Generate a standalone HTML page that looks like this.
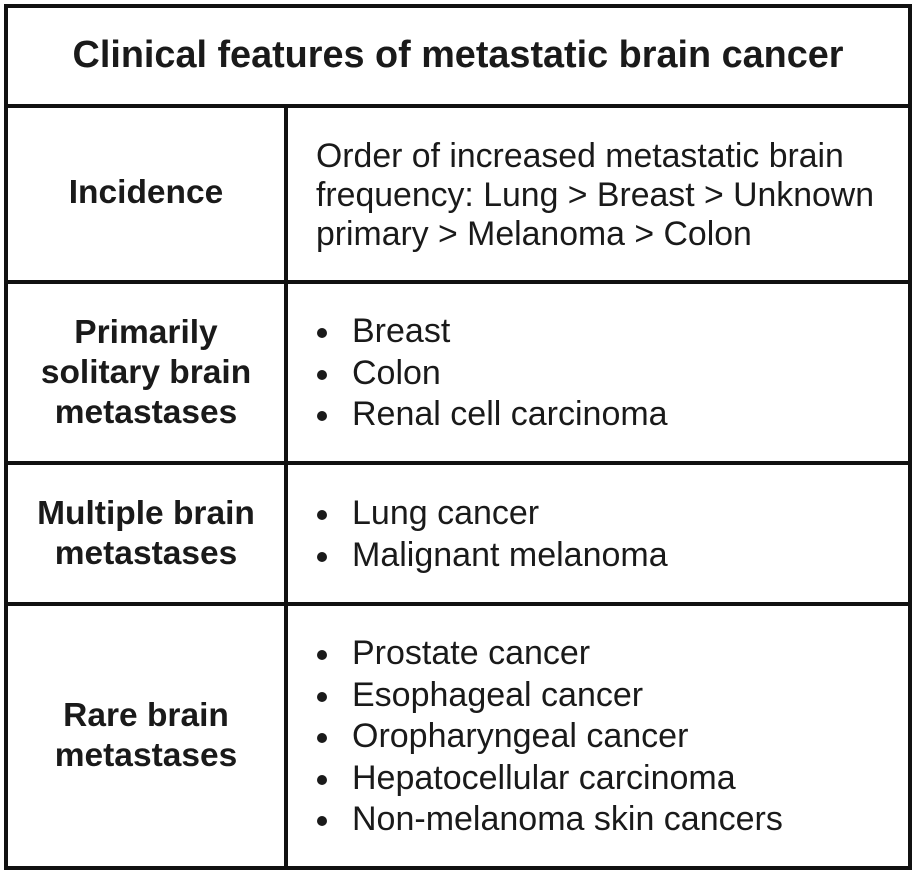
<!DOCTYPE html>
<html><head><meta charset="utf-8"><style>
body{margin:0;background:#fff;width:916px;height:876px;overflow:hidden;position:relative;font-family:"Liberation Sans",Arial,sans-serif;color:#1a1a1a}
.l{position:absolute;background:#111}
.t{position:absolute;white-space:nowrap}
.lab{position:absolute;left:8px;width:276px;text-align:center;font-weight:bold;font-size:33.5px;line-height:40px}
.b{position:absolute;left:352px;font-size:34px;line-height:41.5px;white-space:nowrap}
.b div{position:relative}
.b div::before{content:"";position:absolute;left:-35px;top:17px;width:10px;height:10px;border-radius:50%;background:#1a1a1a}
</style></head><body>
<div class="l" style="left:4px;top:4px;width:908px;height:4px"></div>
<div class="l" style="left:4px;top:866px;width:908px;height:4px"></div>
<div class="l" style="left:4px;top:4px;width:4px;height:866px"></div>
<div class="l" style="left:908px;top:4px;width:4px;height:866px"></div>
<div class="l" style="left:4px;top:104px;width:908px;height:4px"></div>
<div class="l" style="left:284px;top:104px;width:4px;height:766px"></div>
<div class="l" style="left:4px;top:280px;width:908px;height:4px"></div>
<div class="l" style="left:4px;top:461px;width:908px;height:4px"></div>
<div class="l" style="left:4px;top:602px;width:908px;height:4px"></div>

<div class="t" style="left:8px;width:900px;top:35px;text-align:center;font-weight:bold;font-size:37.8px;line-height:40px">Clinical features of metastatic brain cancer</div>

<div class="lab" style="top:173px">Incidence</div>
<div class="t" style="left:316px;top:137px;font-size:33.8px;line-height:39px">Order of increased metastatic brain<br>frequency: Lung &gt; Breast &gt; Unknown<br>primary &gt; Melanoma &gt; Colon</div>

<div class="lab" style="top:313px">Primarily<br>solitary brain<br>metastases</div>
<div class="b" style="top:311px"><div>Breast</div><div>Colon</div><div>Renal cell carcinoma</div></div>

<div class="lab" style="top:494px">Multiple brain<br>metastases</div>
<div class="b" style="top:493px"><div>Lung cancer</div><div>Malignant melanoma</div></div>

<div class="lab" style="top:696px">Rare brain<br>metastases</div>
<div class="b" style="top:633px"><div>Prostate cancer</div><div>Esophageal cancer</div><div>Oropharyngeal cancer</div><div>Hepatocellular carcinoma</div><div>Non-melanoma skin cancers</div></div>
</body></html>
